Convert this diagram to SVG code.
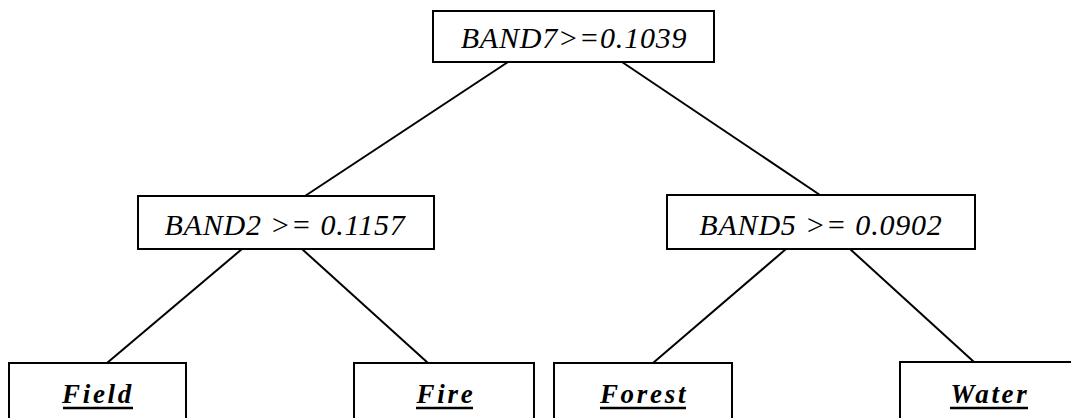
<svg xmlns="http://www.w3.org/2000/svg" width="1071" height="418" viewBox="0 0 1071 418">
<style>
.box{fill:#fff;stroke:#000;stroke-width:2}
.edge{stroke:#000;stroke-width:2;fill:none}
.cond{font-family:'Liberation Serif','Times New Roman',serif;font-style:italic;font-size:30px;fill:#000;text-anchor:middle;letter-spacing:0.8px}
.leaf{font-family:'Liberation Serif','Times New Roman',serif;font-style:italic;font-weight:bold;font-size:27px;fill:#000;text-anchor:middle;letter-spacing:2.7px}
.ul{stroke:#000;stroke-width:2.4}
</style>
<rect width="1071" height="418" fill="#fff"/>
<g id="connectors">
<line class="edge" x1="508" y1="62" x2="305" y2="196"/>
<line class="edge" x1="622" y1="62" x2="820" y2="195"/>
<line class="edge" x1="242" y1="249" x2="107" y2="363"/>
<line class="edge" x1="302" y1="249" x2="428" y2="363"/>
<line class="edge" x1="786" y1="249" x2="653" y2="363"/>
<line class="edge" x1="850" y1="249" x2="974" y2="362"/>
</g>
<g id="root">
<rect class="box" x="433" y="11" width="281" height="51"/>
<text class="cond" x="574" y="48">BAND7&gt;=0.1039</text>
</g>
<g id="band2">
<rect class="box" x="138" y="196" width="296" height="53"/>
<text class="cond" x="285" y="235">BAND2 &gt;= 0.1157</text>
</g>
<g id="band5">
<rect class="box" x="667" y="195" width="308" height="54"/>
<text class="cond" x="821" y="235">BAND5 &gt;= 0.0902</text>
</g>
<g id="field">
<rect class="box" x="9" y="363" width="177" height="70"/>
<text class="leaf" x="98" y="403">Field</text>
<line class="ul" x1="63" y1="408" x2="133" y2="408"/>
</g>
<g id="fire">
<rect class="box" x="354" y="363" width="180" height="70"/>
<text class="leaf" x="446" y="403">Fire</text>
<line class="ul" x1="416" y1="408" x2="473" y2="408"/>
</g>
<g id="forest">
<rect class="box" x="554" y="363" width="178" height="70"/>
<text class="leaf" x="644" y="403">Forest</text>
<line class="ul" x1="600" y1="408" x2="686" y2="408"/>
</g>
<g id="water">
<rect class="box" x="900" y="362" width="180" height="70"/>
<text class="leaf" x="990" y="403">Water</text>
<line class="ul" x1="950" y1="408" x2="1028" y2="408"/>
</g>
</svg>
